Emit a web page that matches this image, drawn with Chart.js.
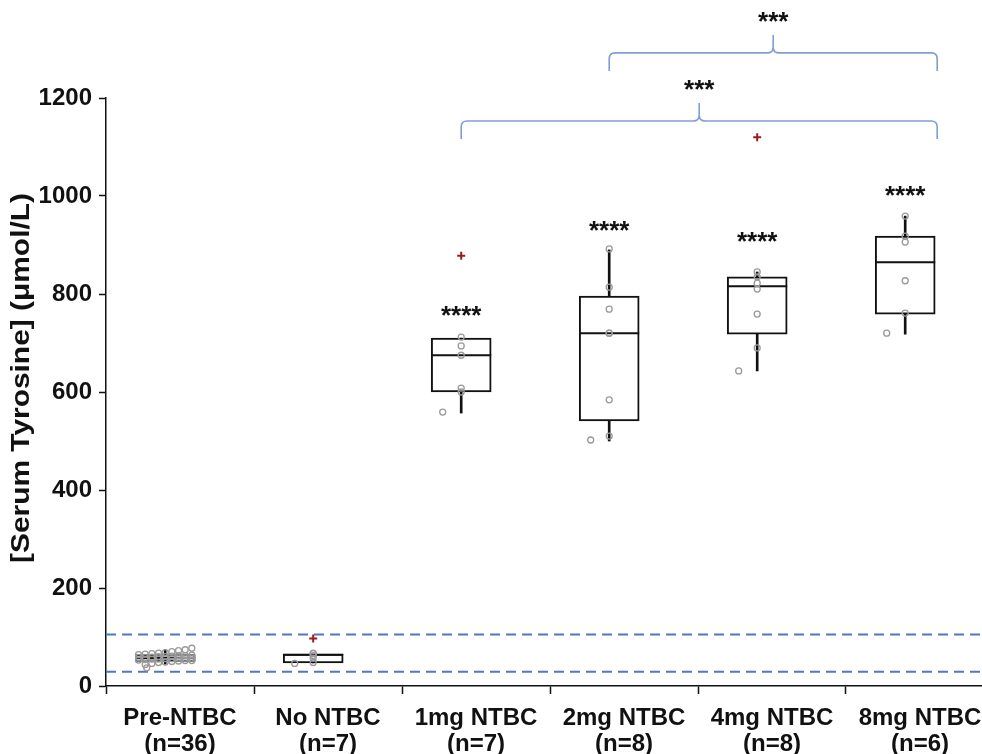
<!DOCTYPE html>
<html>
<head>
<meta charset="utf-8">
<script src="https://cdn.jsdelivr.net/npm/chart.js@4.4.1/dist/chart.umd.min.js"></script>
<style>
  html, body { margin: 0; padding: 0; background: #fff; overflow: hidden; }
  #wrap { width: 982px; height: 754px; position: relative; }
  canvas { display: block; }
</style>
</head>
<body>
<div id="wrap"><canvas id="grafico"></canvas></div>
<script>
const categorias = [
  ['Pre-NTBC', '(n=36)'],
  ['No NTBC', '(n=7)'],
  ['1mg NTBC', '(n=7)'],
  ['2mg NTBC', '(n=8)'],
  ['4mg NTBC', '(n=8)'],
  ['8mg NTBC', '(n=6)']
];

const q1 = [50, 47, 600, 541, 718, 759];
const mediana = [57, 64, 675, 720, 816, 865];
const q3 = [64, 65, 710, 796, 835, 918];
const bigodeMin = [44, 47, 557, 500, 643, 718];
const bigodeMax = [74, 65, 710, 890, 845, 959];

const pontos = [
  [37, 44, 46, 48, 49, 50, 51, 52, 52, 53, 54, 55, 55, 56, 56, 57, 57, 57,
   58, 58, 59, 60, 60, 61, 62, 62, 63, 64, 65, 66, 67, 68, 70, 72, 74, 77],
  [46, 48, 57, 62, 66, 67],
  [559, 600, 608, 675, 694, 712],
  [502, 510, 584, 720, 720, 769, 814, 892],
  [643, 690, 759, 810, 822, 835, 845],
  [720, 761, 827, 906, 918, 959]
];
const outliers = [[], [97], [878], [], [1120], []];

const estrelas = ['', '', '****', '****', '****', '****'];
const estrelasY = [0, 0, 761, 935, 912, 1006];

const faixaNormal = [29, 105];

// chaves de comparacao: grupo inicial, grupo final, altura, texto
const chaveDe = [2, 3];
const chaveAte = [5, 5];
const chaveY = [1153, 1292];
const chaveTexto = ['***', '***'];

const tituloY = '[Serum Tyrosine] (μmol/L)';

const DESLOC = -0.1;     // caixas ficam um pouco a esquerda do centro
const LARG = 60;         // largura da caixa em px
const PX_UNID = 148;     // px por categoria
const XMAX = -0.5 + (982 - 106) / PX_UNID;

const FONTE = "'Liberation Sans', Arial, sans-serif";

const caixas = q1.map((v, i) => ({ x: i + DESLOC, y: [v, q3[i]] }));
const bigodes = [];
q1.forEach((v, i) => {
  bigodes.push({ x: i + DESLOC, y: [bigodeMin[i], v] });
  bigodes.push({ x: i + DESLOC, y: [q3[i], bigodeMax[i]] });
});
const medianas = mediana.map((v, i) => ({ x: i + DESLOC, y: v }));

const circulos = [];
pontos.forEach((lista, i) => {
  lista.forEach((v, k) => {
    let dx = 0;
    if (k === 0) dx = -0.125;
    else if (lista.length > 20) dx = ((k % 9) - 4) * 0.045;
    circulos.push({ x: i + DESLOC + dx, y: v });
  });
});
const cruzes = [];
outliers.forEach((lista, i) => lista.forEach(v => cruzes.push({ x: i + DESLOC, y: v })));

const linhasNormais = faixaNormal.map(v => ({
  type: 'line',
  data: [{ x: -0.5, y: v }, { x: XMAX, y: v }],
  borderColor: '#4f78c4',
  borderWidth: 2,
  borderDash: [10, 6],
  pointRadius: 0,
  order: 6
}));

const anotacoes = {
  id: 'anotacoes',
  afterDatasetsDraw(chart) {
    const { ctx, scales: { x, y } } = chart;
    ctx.save();
    ctx.fillStyle = '#111';
    ctx.textAlign = 'center';
    ctx.textBaseline = 'alphabetic';

    // titulo do eixo y
    ctx.save();
    ctx.font = 'bold 26px ' + FONTE;
    ctx.translate(22, 378);
    ctx.rotate(-Math.PI / 2);
    ctx.scale(1.15, 1);
    ctx.textBaseline = 'middle';
    ctx.fillText(tituloY, 0, 0);
    ctx.restore();

    ctx.font = 'bold 26px ' + FONTE;
    estrelas.forEach((s, i) => {
      if (!s) return;
      ctx.fillText(s, x.getPixelForValue(i + DESLOC), y.getPixelForValue(estrelasY[i]) + 11);
    });

    ctx.strokeStyle = '#7f9ed6';
    ctx.lineWidth = 1.6;
    const r = 6, h = 18;
    chaveDe.forEach((de, k) => {
      const x1 = x.getPixelForValue(de + DESLOC);
      const x2 = x.getPixelForValue(chaveAte[k] + DESLOC) + LARG / 2 + 2;
      const xm = (x1 + x2) / 2;
      const yy = y.getPixelForValue(chaveY[k]);
      ctx.beginPath();
      ctx.moveTo(x1, yy + h);
      ctx.lineTo(x1, yy + r);
      ctx.quadraticCurveTo(x1, yy, x1 + r, yy);
      ctx.lineTo(xm - r, yy);
      ctx.quadraticCurveTo(xm, yy, xm, yy - r);
      ctx.lineTo(xm, yy - h);
      ctx.moveTo(xm, yy - r);
      ctx.quadraticCurveTo(xm, yy, xm + r, yy);
      ctx.lineTo(x2 - r, yy);
      ctx.quadraticCurveTo(x2, yy, x2, yy + r);
      ctx.lineTo(x2, yy + h);
      ctx.stroke();
      ctx.fillText(chaveTexto[k], xm, yy - h - 5);
    });
    ctx.restore();
  }
};

new Chart(document.getElementById('grafico'), {
  type: 'bar',
  data: {
    datasets: [
      {
        data: caixas,
        backgroundColor: '#fff',
        borderColor: '#111',
        borderWidth: 2,
        borderSkipped: false,
        barThickness: LARG,
        grouped: false,
        order: 4
      },
      {
        data: bigodes,
        backgroundColor: '#111',
        borderWidth: 0,
        barThickness: 2,
        grouped: false,
        order: 5
      },
      {
        type: 'scatter',
        data: medianas,
        pointStyle: 'line',
        pointRadius: LARG / 2,
        borderColor: '#111',
        borderWidth: 2,
        order: 3
      },
      {
        type: 'scatter',
        data: circulos,
        pointStyle: 'circle',
        pointRadius: 3,
        borderColor: '#9a9a9a',
        backgroundColor: 'rgba(255,255,255,0)',
        borderWidth: 1.3,
        order: 2
      },
      {
        type: 'scatter',
        data: cruzes,
        pointStyle: 'cross',
        pointRadius: 4,
        borderColor: '#9b1b1b',
        borderWidth: 2,
        order: 1
      },
      ...linhasNormais
    ]
  },
  options: {
    responsive: true,
    maintainAspectRatio: false,
    animation: false,
    layout: { autoPadding: false, padding: { top: 98, right: 0, left: 0, bottom: 0 } },
    plugins: { legend: { display: false }, tooltip: { enabled: false } },
    scales: {
      x: {
        type: 'linear',
        min: -0.5,
        max: XMAX,
        offset: false,
        afterFit: s => {
          s.height = 68;
          s.paddingLeft = 0;
          s.paddingRight = 0;
        },
        afterBuildTicks: s => {
          const t = [];
          for (let v = -0.5; v <= 5; v += 0.5) t.push({ value: v });
          s.ticks = t;
        },
        border: { color: '#111', width: 1.5 },
        grid: {
          offset: false,
          drawOnChartArea: false,
          tickLength: 8,
          tickWidth: 1.5,
          tickColor: c => (c.tick && Number.isInteger(c.tick.value)) ? 'rgba(0,0,0,0)' : '#111'
        },
        ticks: {
          autoSkip: false,
          maxRotation: 0,
          padding: 11,
          color: '#111',
          font: { family: FONTE, size: 24, weight: 'bold', lineHeight: 1.1 },
          callback: v => Number.isInteger(v) ? categorias[v] : ''
        }
      },
      y: {
        min: 0,
        max: 1200,
        afterFit: s => {
          s.width = 106;
          s.paddingTop = 0;
          s.paddingBottom = 0;
        },
        border: { color: '#111', width: 1.5 },
        grid: { drawOnChartArea: false, tickLength: 7, tickWidth: 1.5, tickColor: '#111' },
        ticks: {
          stepSize: 200,
          padding: 7,
          color: '#111',
          font: { family: FONTE, size: 24, weight: 'bold' },
          callback: v => String(v)
        }
      }
    }
  },
  plugins: [anotacoes]
});
</script>
</body>
</html>
